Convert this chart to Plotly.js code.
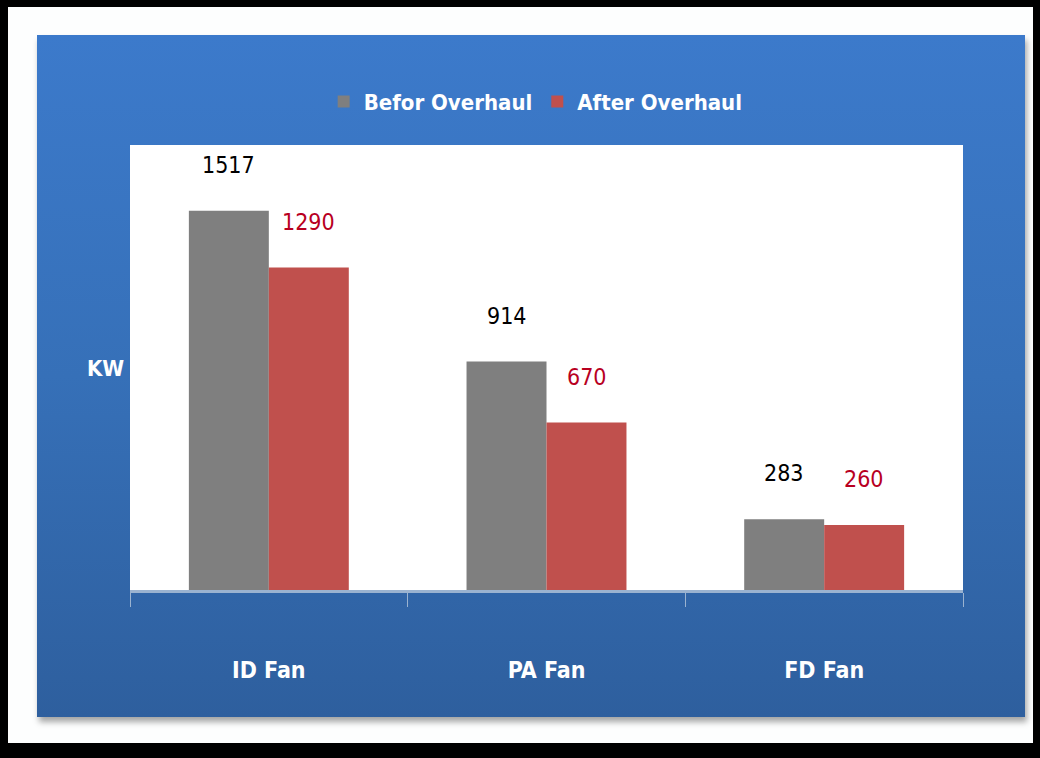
<!DOCTYPE html>
<html>
<head>
<meta charset="utf-8">
<script src="https://cdn.plot.ly/plotly-3.0.1.min.js"></script>
<style>
  html, body { margin:0; padding:0; background:#000; }
  #frame { position:absolute; left:0; top:0; width:1040px; height:758px; background:#000; overflow:hidden; }
  #white { position:absolute; left:8px; top:7px; width:1025px; height:736px; background:#fdfefe; }
  #blue { position:absolute; left:37px; top:35px; width:988px; height:682px;
          background:linear-gradient(to bottom, #3c7acb 0%, #3670b8 50%, #2e5f9e 100%);
          box-shadow: 2px 5px 6px rgba(0,0,0,0.35); }
  #chart { position:absolute; left:0; top:0; width:1040px; height:758px; }
</style>
</head>
<body>
<div id="frame">
  <div id="white"></div>
  <div id="blue"></div>
  <div id="chart"></div>
</div>
<script>
const categories = ["ID Fan", "PA Fan", "FD Fan"];
const beforeValues = [1517, 914, 283];
const afterValues = [1290, 670, 260];
const seriesNames = ["Befor Overhaul", "After Overhaul"];
const yTitle = "KW";

const grayColor = "#7f7f7f";
const redColor = "#c0504d";
const numFont = "DejaVu Sans Condensed, Liberation Sans Narrow, sans-serif";

const traces = [
  { type: "bar", name: seriesNames[0], x: categories, y: beforeValues,
    marker: { color: grayColor }, hoverinfo: "skip" },
  { type: "bar", name: seriesNames[1], x: categories, y: afterValues,
    marker: { color: redColor }, hoverinfo: "skip" }
];

const annotations = [];
categories.forEach((c, i) => {
  annotations.push({ x: c, y: beforeValues[i], xref: "x", yref: "y", text: String(beforeValues[i]),
    showarrow: false, xshift: -40, yshift: 31, yanchor: "bottom",
    font: { family: numFont, size: 23, color: "#000000" } });
  annotations.push({ x: c, y: afterValues[i], xref: "x", yref: "y", text: String(afterValues[i]),
    showarrow: false, xshift: 40, yshift: 31, yanchor: "bottom",
    font: { family: numFont, size: 23, color: "#b8001f" } });
});
annotations.push({ x: (105 - 130) / 833, y: (590 - 368) / 445, xref: "paper", yref: "paper",
  xanchor: "center", yanchor: "middle", text: "<b>" + yTitle + "</b>", showarrow: false,
  font: { family: numFont, size: 22, color: "#ffffff" } });

const layout = {
  width: 1040, height: 758,
  margin: { l: 130, r: 77, t: 145, b: 168 },
  paper_bgcolor: "rgba(0,0,0,0)",
  plot_bgcolor: "#ffffff",
  barmode: "group",
  bargap: 0.424,
  bargroupgap: 0,
  showlegend: true,
  legend: { orientation: "h", x: 0.487, xanchor: "center", y: 1.05, yanchor: "bottom",
    yref: "paper", bgcolor: "rgba(0,0,0,0)",
    font: { family: numFont, size: 22, color: "#ffffff", weight: "bold" },
    itemwidth: 30, tracegroupgap: 0 },
  xaxis: { type: "category", showline: true, linecolor: "#9bb3d0", linewidth: 3,
    ticks: "outside", tickson: "boundaries", ticklen: 14, tickcolor: "#9bb3d0", tickwidth: 1,
    ticklabelstandoff: 57,
    tickfont: { family: numFont, size: 23, color: "#ffffff", weight: "bold" },
    showgrid: false, zeroline: false, fixedrange: true },
  yaxis: { range: [0, 1780], showticklabels: false, showgrid: false, zeroline: false,
    ticks: "", showline: false, fixedrange: true },
  annotations: annotations
};

Plotly.newPlot("chart", traces, layout, { displayModeBar: false, staticPlot: true });
</script>
</body>
</html>
